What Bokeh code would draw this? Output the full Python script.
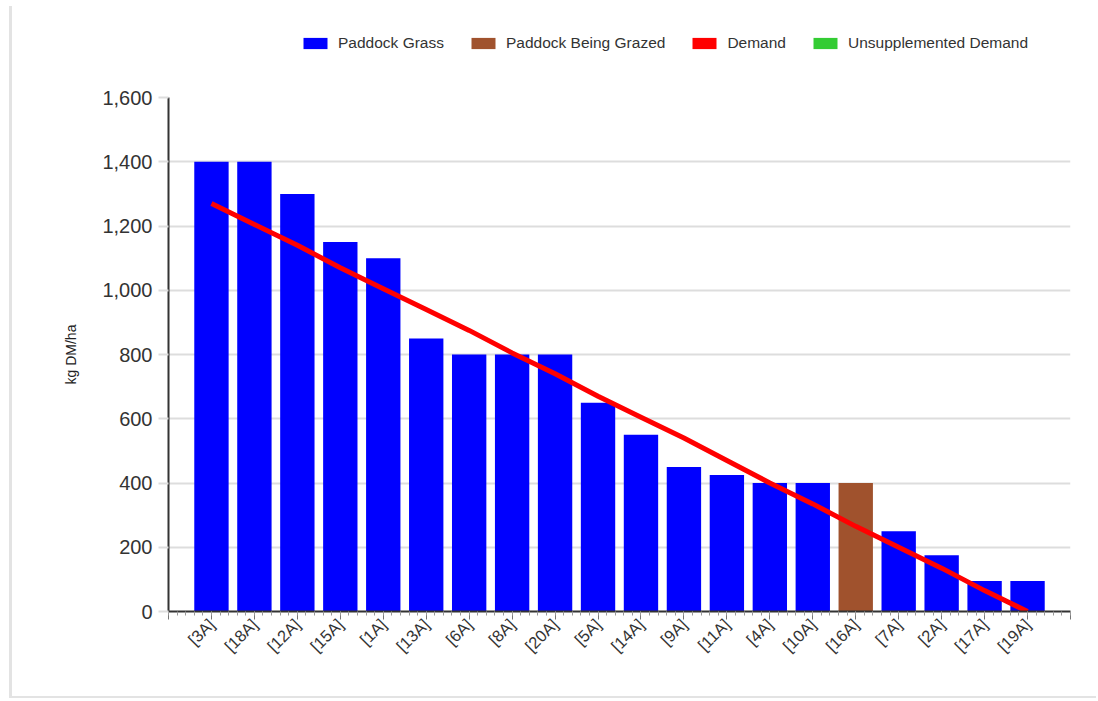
from bokeh.plotting import figure
from bokeh.layouts import column
from bokeh.models import (FixedTicker, NumeralTickFormatter,
                          Legend, LegendItem, Range1d)
from bokeh.embed import file_html
from bokeh.resources import INLINE

paddocks = ["[3A]", "[18A]", "[12A]", "[15A]", "[1A]", "[13A]", "[6A]", "[8A]",
            "[20A]", "[5A]", "[14A]", "[9A]", "[11A]", "[4A]", "[10A]", "[16A]",
            "[7A]", "[2A]", "[17A]", "[19A]"]
cover = [1400, 1400, 1300, 1150, 1100, 850, 800, 800, 800, 650, 550, 450, 425,
         400, 400, 400, 250, 175, 95, 95]
grazed = ["[16A]"]
demand = [1270, 1205, 1140, 1070, 1005, 940, 875, 805, 740, 670, 605, 540, 470,
          400, 335, 265, 200, 135, 65, 0]
y_ticks = [0, 200, 400, 600, 800, 1000, 1200, 1400, 1600]
series_names = ["Paddock Grass", "Paddock Being Grazed", "Demand", "Unsupplemented Demand"]
series_colors = ["#0000FF", "#A0522D", "#FF0000", "#33CC33"]

pos = list(range(1, len(paddocks) + 1))
g_x = [p_ for p_, n in zip(pos, paddocks) if n not in grazed]
g_y = [c for c, n in zip(cover, paddocks) if n not in grazed]
z_x = [p_ for p_, n in zip(pos, paddocks) if n in grazed]
z_y = [c for c, n in zip(cover, paddocks) if n in grazed]
nan = float("nan")

FONT = "Liberation Sans"

# ---- legend strip above the chart ----
lf = figure(width=1084, height=74, output_backend="svg", toolbar_location=None,
            x_axis_location=None, y_axis_location=None, min_border=0,
            x_range=Range1d(0, 1), y_range=Range1d(0, 1))
lf.outline_line_color = None
lf.xgrid.grid_line_color = None
lf.ygrid.grid_line_color = None
items = []
for name, col in zip(series_names, series_colors):
    r = lf.vbar(x=[nan], top=[nan], width=0.5, fill_color=col, line_color=None)
    items.append(LegendItem(label=name, renderers=[r]))
legend = Legend(items=items, orientation="horizontal", location=(132, 28))
legend.border_line_color = None
legend.background_fill_alpha = 0
legend.padding = 0
legend.margin = 0
legend.spacing = 24
legend.glyph_width = 30
legend.glyph_height = 14
legend.label_text_font = FONT
legend.label_text_font_size = "15.5px"
legend.label_text_color = "#333333"
legend.label_standoff = 8
lf.add_layout(legend, "center")

# ---- main chart ----
p = figure(width=1084, height=616, output_backend="svg", toolbar_location=None,
           x_range=Range1d(0, len(paddocks) + 1), y_range=Range1d(0, 1600),
           min_border_left=156, min_border_right=26, min_border_top=17,
           min_border_bottom=85)
p.outline_line_color = None
p.background_fill_color = "white"
p.border_fill_color = "white"

p.vbar(x=g_x, top=g_y, width=0.8, fill_color=series_colors[0], line_color=None)
p.vbar(x=z_x, top=z_y, width=0.8, fill_color=series_colors[1], line_color=None)
p.line(x=pos, y=demand, line_color=series_colors[2], line_width=5)

p.xgrid.grid_line_color = None
p.ygrid.grid_line_color = "#dddddd"
p.ygrid.grid_line_width = 2

p.yaxis.ticker = FixedTicker(ticks=y_ticks)
p.yaxis.formatter = NumeralTickFormatter(format="0,0")
p.yaxis.axis_line_color = "#333333"
p.yaxis.axis_line_width = 2
p.yaxis.major_tick_line_color = "#dddddd"
p.yaxis.major_tick_line_width = 2
p.yaxis.major_tick_out = 10
p.yaxis.major_tick_in = 0
p.yaxis.minor_tick_line_color = None
p.yaxis.major_label_text_font = FONT
p.yaxis.major_label_text_font_size = "20px"
p.yaxis.major_label_text_color = "#333333"
p.yaxis.major_label_standoff = 6
p.yaxis.axis_label = "kg DM/ha"
p.yaxis.axis_label_text_font = FONT
p.yaxis.axis_label_text_font_size = "14px"
p.yaxis.axis_label_text_font_style = "normal"
p.yaxis.axis_label_text_color = "#222222"
p.yaxis.axis_label_standoff = 20

xt = list(range(0, len(paddocks) + 2))
minor = [i / 5 for i in range(0, 5 * (len(paddocks) + 1) + 1)]
p.xaxis.ticker = FixedTicker(ticks=xt, minor_ticks=minor)
p.xaxis.major_label_overrides = {i: (paddocks[i - 1] if 1 <= i <= len(paddocks) else "") for i in xt}
p.xaxis.axis_line_color = "#333333"
p.xaxis.axis_line_width = 2
p.xaxis.major_tick_line_color = "#777777"
p.xaxis.major_tick_out = 8
p.xaxis.major_tick_in = 0
p.xaxis.minor_tick_line_color = "#999999"
p.xaxis.minor_tick_out = 4
p.xaxis.minor_tick_in = 0
p.xaxis.major_label_orientation = 0.785398
p.xaxis.major_label_text_font = FONT
p.xaxis.major_label_text_font_size = "16.5px"
p.xaxis.major_label_text_color = "#333333"
p.xaxis.major_label_standoff = 2

layout = column(lf, p, spacing=0)
layout.styles = {"border-left": "3px solid #e3e3e3", "border-bottom": "2px solid #e3e3e3",
                 "margin-left": "9px", "margin-top": "6px", "background": "white"}

open("out.html", "w").write(file_html(layout, INLINE))
